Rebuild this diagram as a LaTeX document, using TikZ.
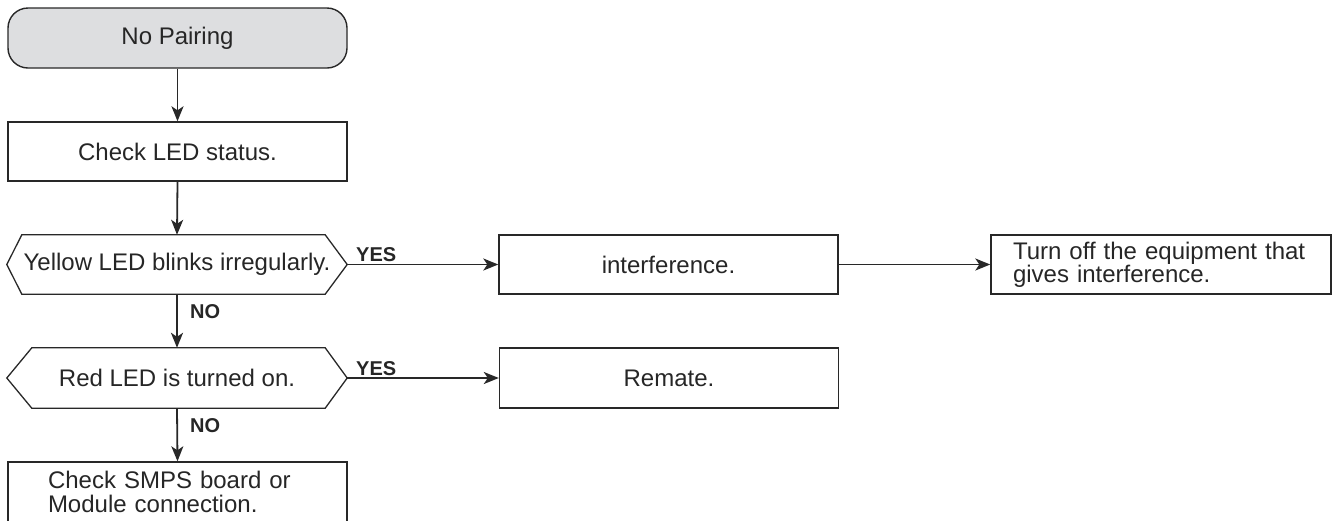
\documentclass[tikz,border=0pt]{standalone}
\usepackage{fontspec}
\setmainfont{Liberation Sans}
\usetikzlibrary{arrows.meta}
\definecolor{edge}{RGB}{40,40,40}
\definecolor{startfill}{RGB}{221,222,224}
\tikzset{
  box/.style={draw=edge, line width=1.4pt, rectangle, minimum width=339pt, minimum height=59pt,
    inner sep=0pt, font=\fontsize{24}{24}\selectfont, text=black!85},
  startbox/.style={box, fill=startfill, rounded corners=20pt, minimum height=60pt},
  hexnode/.style={rectangle, minimum width=340pt, minimum height=59pt, inner sep=0pt,
    font=\fontsize{24}{24}\selectfont, text=black!85},
  hexline/.style={draw=edge, line width=1.3pt},
  conn/.style={draw=edge, line width=1.8pt, -{Stealth[length=15pt,width=12pt,inset=4pt]}},
  lbl/.style={font=\bfseries\fontsize{20}{20}\selectfont, text=black!85, inner sep=0pt}
}
\begin{document}
\begin{tikzpicture}[x=1pt,y=-1pt]
\useasboundingbox (0,0) rectangle (1332,520);
\node[startbox] (start) at (177.5,38) {No Pairing};
\node[box] (check) at (177.5,151.5) {Check LED status.};
\node[hexnode] (h1) at (177,264.5) {Yellow LED blinks irregularly.};
\draw[hexline] (h1.west) -- ([xshift=15pt]h1.north west) -- ([xshift=-22pt]h1.north east) -- (h1.east)
  -- ([xshift=-22pt]h1.south east) -- ([xshift=15pt]h1.south west) -- cycle;
\node[hexnode, minimum height=60pt] (h2) at (177,378) {Red LED is turned on.};
\draw[hexline] (h2.west) -- ([xshift=25pt]h2.north west) -- ([xshift=-22pt]h2.north east) -- (h2.east)
  -- ([xshift=-22pt]h2.south east) -- ([xshift=25pt]h2.south west) -- cycle;
\node[box] (int) at (668.5,264.5) {interference.};
\node[box, minimum width=340pt, text width=296pt, inner xsep=22pt, align=left,
  font=\fontsize{24}{22}\selectfont] (turn) at (1161,264.5) {Turn off the equipment that\\gives interference.};
\node[box, minimum height=60pt] (remate) at (669,378) {Remate.};
\node[box, minimum height=60pt, text width=259pt, inner xsep=40pt, align=left] (smps) at (177.5,492)
  {Check SMPS board or\\Module connection.};
\draw[conn] (start.south) -- (check.north);
\draw[conn] (check.south) -- (h1.north);
\draw[conn] (h1.east) -- (int.west);
\draw[conn] (int.east) -- (turn.west);
\draw[conn] (h1.south) -- (h2.north);
\draw[conn] (h2.east) -- (remate.west);
\draw[conn] (h2.south) -- (smps.north);
\node[lbl, anchor=base west] (yes1) at (356,261) {YES};
\node[lbl, anchor=base west] (no1) at (190,318) {NO};
\node[lbl, anchor=base west] (yes2) at (356,375) {YES};
\node[lbl, anchor=base west] (no2) at (190,432) {NO};
\end{tikzpicture}
\end{document}
